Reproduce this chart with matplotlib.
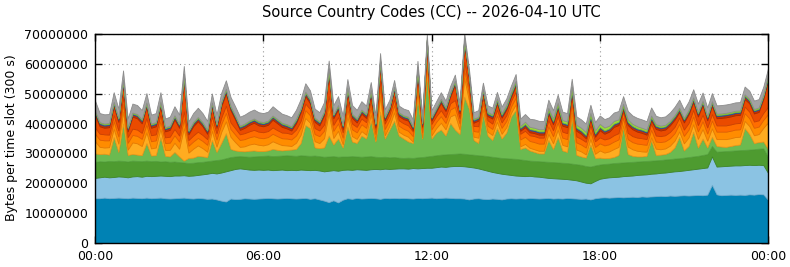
import numpy as np
import matplotlib
matplotlib.use("Agg")
import matplotlib.pyplot as plt
from matplotlib.ticker import FixedLocator, FuncFormatter

TITLE = "Source Country Codes (CC) -- 2026-04-10 UTC"
YLABEL = "Bytes per time slot (300 s)"
SLOT_MINUTES = 10
x_tick_hours = [0, 6, 12, 18, 24]
x_tick_labels = ["00:00", "06:00", "12:00", "18:00", "00:00"]
y_ticks = [0, 10000000, 20000000, 30000000, 40000000, 50000000, 60000000, 70000000]

# values in millions of bytes, one value per 10 minutes (00:00 .. 24:00)
dark_blue = [
    15.0, 15.0, 15.2, 15.0, 15.1, 15.2,
    15.1, 15.0, 15.2, 15.1, 15.0, 15.2,
    15.0, 15.1, 15.2, 15.0, 14.9, 15.0,
    15.1, 15.2, 15.0, 14.9, 15.1, 15.0,
    14.8, 14.9, 14.6, 14.2, 13.9, 14.9,
    14.7, 14.8, 15.0, 14.9, 14.8, 14.9,
    15.0, 15.1, 15.0, 14.9, 15.0, 15.1,
    15.0, 14.9, 15.0, 15.1, 14.8, 15.0,
    14.6, 14.2, 13.7, 14.3, 13.6, 14.5,
    15.0, 14.8, 15.1, 14.9, 15.0, 15.1,
    15.0, 14.8, 15.1, 15.0, 15.1, 15.0,
    15.1, 15.0, 14.9, 15.1, 15.0, 15.1,
    15.2, 15.0, 15.1, 15.2, 15.1, 15.0,
    15.0, 14.9, 14.6, 14.9, 15.0, 14.8,
    14.7, 14.9, 14.8, 14.6, 14.9, 15.0,
    14.9, 15.0, 14.9, 15.1, 15.0, 14.9,
    15.0, 15.1, 14.9, 15.0, 14.9, 15.1,
    15.0, 14.9, 14.8, 14.9, 14.6, 15.0,
    15.2, 15.3, 15.2, 15.3, 15.4, 15.3,
    15.4, 15.5, 15.4, 15.6, 15.5, 15.6,
    15.7, 15.8, 15.7, 15.9, 15.8, 15.9,
    16.0, 15.9, 16.0, 16.1, 16.0, 16.2,
    19.5, 16.3, 16.0, 16.1, 16.2, 16.1,
    16.2, 16.1, 16.3, 16.2, 16.4, 16.3,
    14.5]

light_blue = [
    6.8, 7.0, 7.0, 7.0, 7.0, 7.1,
    7.1, 7.0, 7.1, 7.3, 7.2, 7.3,
    7.4, 7.4, 7.4, 7.5, 7.5, 7.6,
    7.5, 7.5, 7.5, 7.7, 7.7, 8.0,
    8.4, 8.6, 8.7, 9.4, 10.1, 9.5,
    10.1, 10.2, 9.8, 9.7, 9.7, 9.7,
    9.5, 9.5, 9.4, 9.6, 9.6, 9.3,
    9.5, 9.5, 9.6, 9.4, 9.6, 9.5,
    9.7, 9.8, 10.5, 10.1, 10.6, 10.0,
    9.6, 9.7, 9.6, 9.7, 9.5, 9.6,
    9.8, 9.9, 9.8, 9.8, 9.8, 10.0,
    9.9, 9.9, 10.2, 9.9, 10.1, 10.1,
    10.0, 10.4, 10.5, 10.3, 10.6, 10.8,
    10.8, 10.8, 10.9, 10.4, 10.0, 9.8,
    9.5, 8.9, 8.7, 8.6, 8.1, 7.8,
    7.7, 7.5, 7.5, 7.4, 7.3, 7.3,
    7.0, 6.7, 6.8, 6.6, 6.6, 6.3,
    6.2, 6.1, 5.8, 5.3, 5.4, 5.8,
    6.3, 6.5, 6.8, 6.8, 6.8, 7.1,
    7.1, 7.1, 7.4, 7.3, 7.5, 7.6,
    7.6, 7.7, 7.9, 7.9, 8.2, 8.2,
    8.3, 8.6, 8.7, 8.8, 9.1, 9.1,
    9.5, 9.3, 9.7, 9.7, 9.7, 9.9,
    9.8, 10.0, 9.9, 9.9, 9.8, 9.8,
    9.0]

dark_green = [
    5.4, 5.4, 5.1, 5.5, 5.3, 5.3,
    5.3, 5.3, 5.3, 5.1, 5.2, 5.1,
    5.0, 5.0, 4.7, 4.9, 4.8, 4.7,
    4.5, 4.3, 4.3, 4.3, 4.3, 4.2,
    4.2, 4.1, 4.5, 4.4, 4.4, 4.4,
    4.2, 4.1, 4.2, 4.3, 4.5, 4.5,
    4.7, 4.7, 4.7, 4.7, 4.7, 5.0,
    4.8, 4.8, 4.8, 4.8, 4.8, 4.8,
    4.8, 4.9, 4.8, 4.7, 4.7, 4.5,
    4.4, 4.6, 4.3, 4.3, 4.5, 4.4,
    4.1, 4.1, 4.0, 3.9, 3.9, 3.6,
    3.5, 3.7, 3.4, 3.7, 3.7, 3.8,
    4.0, 4.0, 4.0, 4.2, 4.1, 4.1,
    4.2, 4.2, 4.2, 4.3, 4.4, 4.7,
    4.9, 5.1, 5.2, 5.3, 5.4, 5.5,
    5.6, 5.5, 5.4, 5.1, 5.2, 5.2,
    5.3, 5.4, 5.4, 5.4, 5.4, 5.4,
    5.4, 5.4, 5.6, 5.6, 5.6, 5.2,
    4.8, 4.7, 4.6, 4.7, 4.7, 4.6,
    4.6, 4.6, 4.5, 4.5, 4.5, 4.4,
    4.4, 4.3, 4.4, 4.3, 4.3, 4.3,
    4.3, 4.3, 4.3, 4.3, 4.4, 4.5,
    3.5, 5.0, 5.0, 5.0, 5.0, 5.0,
    5.1, 5.1, 5.1, 5.3, 5.4, 5.6,
    5.3]

light_green = [
    2.8, 2.4, 2.6, 2.1, 8.1, 2.9,
    12.5, 2.2, 2.2, 2.1, 2.0, 5.9,
    1.9, 1.9, 8.2, 1.8, 1.8, 3.2,
    1.9, 0.6, 1.7, 1.7, 2.1, 1.8,
    1.4, 6.9, 2.7, 5.5, 8.4, 2.7,
    2.0, 1.7, 1.7, 2.0, 2.0, 1.7,
    1.6, 1.7, 2.4, 2.0, 1.7, 1.8,
    2.0, 2.3, 4.1, 10.2, 9.3, 2.7,
    2.7, 3.1, 7.0, 3.9, 6.1, 3.0,
    10.0, 4.9, 4.5, 7.1, 6.0, 11.9,
    5.1, 15.2, 6.1, 9.3, 12.2, 7.4,
    6.5, 5.4, 5.0, 20.3, 6.2, 27.8,
    5.8, 7.6, 8.4, 6.3, 10.4, 8.1,
    6.5, 19.1, 15.3, 4.9, 4.1, 14.1,
    6.9, 5.6, 9.8, 6.5, 8.6, 14.0,
    16.4, 3.5, 4.2, 3.4, 3.0, 2.6,
    2.7, 7.3, 4.4, 8.5, 4.1, 3.7,
    15.4, 3.1, 2.8, 2.8, 7.4, 2.5,
    2.3, 1.9, 1.9, 2.0, 2.6, 12.0,
    2.7, 2.0, 1.7, 1.6, 1.7, 6.9,
    1.8, 1.8, 1.8, 2.4, 3.7, 7.2,
    2.4, 3.7, 8.3, 2.8, 5.5, 2.2,
    3.1, 1.9, 1.6, 1.4, 1.6, 1.8,
    1.9, 7.3, 5.2, 2.1, 2.2, 2.3,
    2.7]

yellow_orange = [
    4.1, 2.4, 2.1, 2.5, 2.8, 2.8,
    4.1, 1.8, 3.9, 3.8, 3.1, 3.6,
    2.4, 2.6, 2.8, 2.0, 2.2, 3.1,
    2.6, 10.9, 1.8, 3.0, 3.5, 2.8,
    1.8, 3.1, 1.8, 3.7, 4.0, 4.1,
    2.8, 1.4, 1.7, 2.1, 2.3, 2.1,
    1.9, 2.1, 2.6, 2.2, 1.8, 1.5,
    1.2, 2.1, 2.8, 2.4, 1.8, 2.1,
    1.7, 3.1, 7.6, 2.2, 2.6, 1.1,
    3.4, 1.8, 1.4, 1.5, 1.3, 2.1,
    0.6, 5.2, 1.1, 1.3, 2.8, 1.3,
    1.3, 1.6, 0.5, 2.2, 0.3, 2.6,
    1.1, 1.5, 2.3, 2.1, 2.2, 5.1,
    1.6, 6.3, 2.8, 1.1, 1.8, 1.4,
    1.3, 1.7, 2.1, 1.6, 1.8, 1.3,
    1.8, 0.9, 1.2, 0.9, 0.9, 0.9,
    0.9, 2.1, 1.9, 2.5, 1.9, 1.9,
    1.7, 1.8, 1.7, 1.1, 1.9, 1.4,
    2.4, 1.9, 2.2, 2.7, 2.7, 0.4,
    2.5, 2.2, 1.9, 1.7, 1.4, 0.9,
    2.1, 1.8, 1.9, 2.1, 2.3, 1.8,
    2.4, 2.9, 2.5, 2.9, 3.2, 2.3,
    2.8, 2.3, 2.5, 2.6, 2.6, 2.7,
    2.6, 2.4, 2.7, 2.6, 2.7, 4.6,
    8.9]

orange = [
    2.5, 2.4, 2.4, 2.3, 2.5, 2.4,
    2.6, 2.3, 2.5, 2.5, 2.4, 2.6,
    2.4, 2.4, 2.6, 2.3, 2.4, 2.5,
    2.4, 3.0, 2.3, 2.4, 2.5, 2.4,
    2.3, 2.6, 2.4, 2.6, 2.8, 2.6,
    2.5, 2.3, 2.4, 2.4, 2.5, 2.4,
    2.4, 2.4, 2.5, 2.4, 2.3, 2.3,
    2.2, 2.4, 2.5, 2.6, 2.5, 2.4,
    2.3, 2.5, 3.0, 2.4, 2.5, 2.2,
    2.6, 2.3, 2.2, 2.3, 2.3, 2.5,
    2.0, 2.8, 2.1, 2.0, 2.3, 2.0,
    2.0, 2.0, 1.8, 2.2, 1.8, 2.4,
    2.0, 2.1, 2.2, 2.1, 2.3, 2.5,
    2.0, 2.8, 2.3, 1.9, 2.0, 2.1,
    2.0, 2.0, 2.1, 2.0, 2.1, 2.1,
    2.3, 2.3, 2.4, 2.3, 2.4, 2.4,
    2.4, 2.5, 2.4, 2.5, 2.4, 2.4,
    2.6, 2.4, 2.3, 2.3, 2.5, 2.3,
    2.4, 2.4, 2.4, 2.5, 2.5, 2.6,
    2.5, 2.4, 2.4, 2.4, 2.3, 2.5,
    2.4, 2.4, 2.4, 2.5, 2.5, 2.5,
    2.5, 2.6, 2.6, 2.5, 2.6, 2.4,
    2.6, 2.5, 2.5, 2.5, 2.5, 2.5,
    2.5, 2.6, 2.6, 2.5, 2.5, 2.7,
    2.8]

dark_orange = [
    2.1, 2.0, 2.0, 1.9, 2.1, 2.0,
    2.3, 1.9, 2.1, 2.1, 2.0, 2.2,
    2.0, 2.0, 2.2, 1.9, 2.0, 2.1,
    2.0, 2.6, 1.9, 2.0, 2.1, 2.0,
    1.9, 2.2, 2.0, 2.2, 2.4, 2.2,
    2.1, 1.9, 2.0, 2.0, 2.1, 2.0,
    2.0, 2.0, 2.1, 2.0, 1.9, 1.9,
    1.8, 2.0, 2.1, 2.2, 2.1, 2.0,
    1.9, 2.1, 2.6, 2.0, 2.1, 1.8,
    2.2, 1.9, 1.8, 1.9, 1.9, 2.1,
    1.7, 2.4, 1.8, 1.8, 2.0, 1.8,
    1.8, 1.8, 1.6, 2.0, 1.6, 2.2,
    1.8, 1.9, 2.0, 1.9, 2.1, 2.3,
    1.8, 2.6, 2.1, 1.7, 1.8, 1.9,
    1.8, 1.8, 1.9, 1.8, 1.9, 1.9,
    2.0, 1.9, 2.0, 1.9, 2.0, 2.0,
    2.0, 2.1, 2.0, 2.1, 2.0, 2.0,
    2.2, 2.0, 1.9, 1.9, 2.1, 1.9,
    2.0, 2.0, 2.0, 2.1, 2.1, 2.2,
    2.1, 2.0, 2.0, 2.0, 1.9, 2.1,
    2.0, 2.0, 2.0, 2.1, 2.1, 2.1,
    2.1, 2.2, 2.2, 2.1, 2.2, 2.0,
    2.2, 2.1, 2.1, 2.1, 2.1, 2.1,
    2.1, 2.2, 2.2, 2.1, 2.1, 2.3,
    2.4]

red = [
    4.1, 2.5, 2.2, 2.5, 2.9, 2.9,
    4.1, 1.9, 4.0, 3.8, 3.2, 3.7,
    2.5, 2.7, 2.8, 2.0, 2.3, 3.2,
    2.6, 10.9, 1.9, 3.1, 3.5, 2.9,
    1.8, 3.2, 1.9, 3.8, 4.1, 4.1,
    2.9, 1.5, 1.8, 2.2, 2.4, 2.1,
    2.0, 2.1, 2.6, 2.3, 1.9, 1.5,
    1.2, 2.1, 2.9, 2.5, 1.9, 2.1,
    1.7, 3.1, 7.6, 2.2, 2.6, 1.1,
    3.4, 1.9, 1.5, 1.6, 1.4, 2.1,
    0.6, 5.3, 1.1, 1.4, 2.9, 1.4,
    1.4, 1.6, 0.5, 2.2, 0.4, 2.6,
    1.1, 1.5, 2.4, 2.1, 2.3, 5.1,
    1.6, 6.3, 2.9, 1.1, 1.9, 1.4,
    1.4, 1.7, 2.2, 1.6, 1.9, 1.3,
    1.9, 1.0, 1.2, 1.0, 1.0, 1.0,
    1.0, 2.2, 2.0, 2.5, 2.0, 2.0,
    1.8, 1.9, 1.7, 1.2, 2.0, 1.5,
    2.4, 1.9, 2.2, 2.8, 2.7, 0.5,
    2.6, 2.3, 2.0, 1.8, 1.5, 1.0,
    2.2, 1.9, 1.9, 2.2, 2.4, 1.8,
    2.4, 2.9, 2.6, 2.9, 3.2, 2.4,
    2.8, 2.4, 2.5, 2.7, 2.7, 2.7,
    2.7, 2.5, 2.8, 2.7, 2.8, 4.7,
    8.9]

dark_red = [
    0.8, 0.7, 0.7, 0.7, 0.8, 0.7,
    0.8, 0.7, 0.7, 0.7, 0.7, 0.8,
    0.7, 0.7, 0.8, 0.7, 0.7, 0.7,
    0.7, 0.9, 0.7, 0.7, 0.7, 0.7,
    0.7, 0.8, 0.7, 0.8, 0.8, 0.7,
    0.7, 0.7, 0.7, 0.7, 0.7, 0.7,
    0.7, 0.7, 0.7, 0.7, 0.7, 0.7,
    0.7, 0.7, 0.7, 0.8, 0.8, 0.7,
    0.7, 0.7, 0.9, 0.7, 0.7, 0.7,
    0.8, 0.7, 0.7, 0.7, 0.7, 0.8,
    0.6, 0.8, 0.6, 0.6, 0.7, 0.6,
    0.6, 0.6, 0.6, 0.7, 0.6, 0.8,
    0.6, 0.6, 0.7, 0.6, 0.7, 0.7,
    0.6, 0.8, 0.7, 0.6, 0.6, 0.7,
    0.6, 0.6, 0.7, 0.6, 0.6, 0.7,
    0.7, 0.6, 0.7, 0.7, 0.7, 0.7,
    0.7, 0.7, 0.7, 0.7, 0.7, 0.7,
    0.8, 0.7, 0.7, 0.7, 0.7, 0.7,
    0.7, 0.7, 0.7, 0.7, 0.7, 0.7,
    0.7, 0.7, 0.7, 0.7, 0.7, 0.7,
    0.7, 0.7, 0.7, 0.7, 0.7, 0.7,
    0.7, 0.7, 0.8, 0.7, 0.7, 0.7,
    0.7, 0.7, 0.7, 0.7, 0.7, 0.7,
    0.7, 0.8, 0.7, 0.7, 0.7, 0.7,
    0.8]

blue = [
    0.4, 0.4, 0.4, 0.4, 0.4, 0.4,
    0.5, 0.4, 0.4, 0.4, 0.4, 0.4,
    0.4, 0.4, 0.4, 0.4, 0.4, 0.4,
    0.4, 0.5, 0.4, 0.4, 0.4, 0.4,
    0.4, 0.4, 0.4, 0.4, 0.5, 0.4,
    0.4, 0.4, 0.4, 0.4, 0.4, 0.4,
    0.4, 0.4, 0.4, 0.4, 0.4, 0.4,
    0.4, 0.4, 0.4, 0.4, 0.4, 0.4,
    0.4, 0.4, 0.5, 0.4, 0.4, 0.4,
    0.4, 0.4, 0.4, 0.4, 0.4, 0.4,
    0.4, 0.5, 0.4, 0.4, 0.4, 0.4,
    0.4, 0.4, 0.4, 0.4, 0.4, 0.5,
    0.4, 0.4, 0.4, 0.4, 0.4, 0.4,
    0.4, 0.5, 0.4, 0.4, 0.4, 0.4,
    0.4, 0.4, 0.4, 0.4, 0.4, 0.4,
    0.4, 0.4, 0.4, 0.4, 0.4, 0.4,
    0.4, 0.4, 0.4, 0.4, 0.4, 0.4,
    0.4, 0.4, 0.4, 0.4, 0.4, 0.4,
    0.4, 0.4, 0.4, 0.4, 0.4, 0.4,
    0.4, 0.4, 0.4, 0.4, 0.4, 0.4,
    0.4, 0.4, 0.4, 0.4, 0.4, 0.4,
    0.4, 0.4, 0.4, 0.4, 0.4, 0.4,
    0.4, 0.4, 0.4, 0.4, 0.4, 0.4,
    0.4, 0.4, 0.4, 0.4, 0.4, 0.4,
    0.4]

lime = [
    0.3, 0.3, 0.3, 0.3, 0.3, 0.3,
    0.3, 0.3, 0.3, 0.3, 0.3, 0.3,
    0.3, 0.3, 0.3, 0.3, 0.3, 0.3,
    0.3, 0.3, 0.3, 0.3, 0.3, 0.3,
    0.3, 0.3, 0.3, 0.3, 0.3, 0.3,
    0.3, 0.3, 0.3, 0.3, 0.3, 0.3,
    0.3, 0.3, 0.3, 0.3, 0.3, 0.3,
    0.3, 0.4, 0.3, 0.3, 0.3, 0.3,
    0.3, 0.3, 0.3, 0.3, 0.3, 0.3,
    0.3, 0.3, 0.3, 0.3, 0.3, 0.3,
    0.3, 0.3, 0.3, 0.3, 0.3, 0.3,
    0.3, 0.3, 0.3, 0.3, 0.3, 0.3,
    0.3, 0.3, 0.3, 0.3, 0.3, 0.3,
    0.3, 0.3, 0.3, 0.3, 0.3, 0.3,
    0.4, 0.4, 0.5, 0.5, 0.5, 0.6,
    0.6, 0.6, 0.7, 0.7, 0.7, 0.7,
    0.7, 0.8, 0.8, 0.8, 0.8, 0.8,
    0.9, 0.9, 0.9, 1.0, 1.0, 1.0,
    1.0, 1.0, 0.9, 0.9, 0.8, 0.8,
    0.8, 0.7, 0.7, 0.6, 0.6, 0.6,
    0.5, 0.5, 0.5, 0.4, 0.4, 0.4,
    0.4, 0.4, 0.4, 0.4, 0.4, 0.4,
    0.4, 0.4, 0.4, 0.4, 0.4, 0.4,
    0.4, 0.4, 0.4, 0.4, 0.4, 0.4,
    0.4]

gray = [
    3.4, 3.0, 3.1, 3.0, 3.2, 3.0,
    3.1, 2.9, 3.0, 3.0, 3.0, 3.1,
    3.0, 3.0, 3.1, 2.9, 3.0, 3.0,
    3.0, 2.6, 2.9, 3.0, 3.1, 3.0,
    2.9, 3.0, 3.0, 3.0, 2.8, 3.0,
    3.0, 3.0, 3.0, 3.0, 3.0, 3.0,
    3.0, 3.0, 3.1, 3.0, 3.0, 3.0,
    3.0, 3.0, 3.0, 2.8, 2.8, 3.0,
    3.0, 3.0, 2.6, 3.0, 3.0, 3.0,
    2.8, 2.9, 2.8, 2.8, 2.7, 2.6,
    2.5, 2.3, 2.4, 2.2, 2.2, 2.2,
    2.2, 2.2, 2.2, 2.0, 2.2, 1.8,
    2.2, 2.2, 2.2, 2.2, 2.1, 2.0,
    2.2, 1.8, 2.0, 2.2, 2.2, 2.1,
    2.2, 2.2, 2.2, 2.2, 2.2, 2.1,
    2.3, 2.5, 2.6, 2.7, 2.8, 2.8,
    2.8, 2.7, 2.8, 2.7, 2.8, 2.8,
    2.6, 2.8, 2.8, 2.8, 2.7, 2.8,
    2.8, 2.8, 2.8, 2.8, 2.8, 2.6,
    2.8, 2.8, 2.8, 2.8, 2.8, 2.7,
    2.8, 2.8, 2.8, 2.8, 2.8, 2.7,
    2.8, 2.8, 2.7, 2.8, 2.7, 2.8,
    2.7, 2.8, 2.8, 2.8, 2.8, 2.8,
    2.8, 2.6, 2.7, 2.8, 2.8, 2.6,
    2.4]

series = [dark_blue, light_blue, dark_green, light_green, yellow_orange, orange,
          dark_orange, red, dark_red, blue, lime, gray]
face_colors = ["#0082b4", "#8bc3e3", "#4e9b30", "#6bba50", "#ffac20", "#ff8c00",
               "#ff6d00", "#ea4b00", "#c83300", "#3a62a8", "#9ade3a", "#a3a3a3"]
edge_colors = ["#006c98", "#73aed0", "#3f8526", "#57a33f", "#e8961a", "#e67a00",
               "#e25e00", "#cc4000", "#a82a00", "#2d4f8c", "#7fc22c", "#8c8c8c"]

n = len(dark_blue)
lengths = [len(s) for s in series]
assert all(l == n for l in lengths), lengths

hours = np.arange(n) * SLOT_MINUTES / 60.0
vals = np.array(series, dtype=float) * 1e6
tops = np.cumsum(vals, axis=0)

W, H = 790, 267
fig = plt.figure(figsize=(W / 100, H / 100), dpi=100)
ax = fig.add_axes([95 / W, 1 - 243 / H, (768 - 95) / W, (243 - 34) / H])

lower = np.zeros(n)
for k in range(len(series)):
    ax.fill_between(hours, lower, tops[k], facecolor=face_colors[k],
                    edgecolor=edge_colors[k], linewidth=0.6, zorder=2)
    lower = tops[k]

ax.set_xlim(0, 24)
ax.set_ylim(0, 70000000)
ax.xaxis.set_major_locator(FixedLocator(x_tick_hours))
ax.set_xticklabels(x_tick_labels)
ax.yaxis.set_major_locator(FixedLocator(y_ticks))
ax.yaxis.set_major_formatter(FuncFormatter(lambda v, p: "%d" % int(round(v))))
ax.tick_params(direction="in", length=5, width=1, top=True, right=True,
               labelsize=9, pad=5, colors="black")
ax.grid(True, linestyle=(0, (1, 3)), color="#999999", linewidth=0.8, zorder=0)
ax.set_axisbelow(True)
for sp in ax.spines.values():
    sp.set_linewidth(1.0)
    sp.set_zorder(5)

fig.text(431.5 / W, 1 - 12 / H, TITLE, ha="center", va="center", fontsize=10.5)
fig.text(12 / W, 1 - 138 / H, YLABEL, ha="center", va="center", rotation=90, fontsize=9)

fig.savefig("out.png", dpi=100)
